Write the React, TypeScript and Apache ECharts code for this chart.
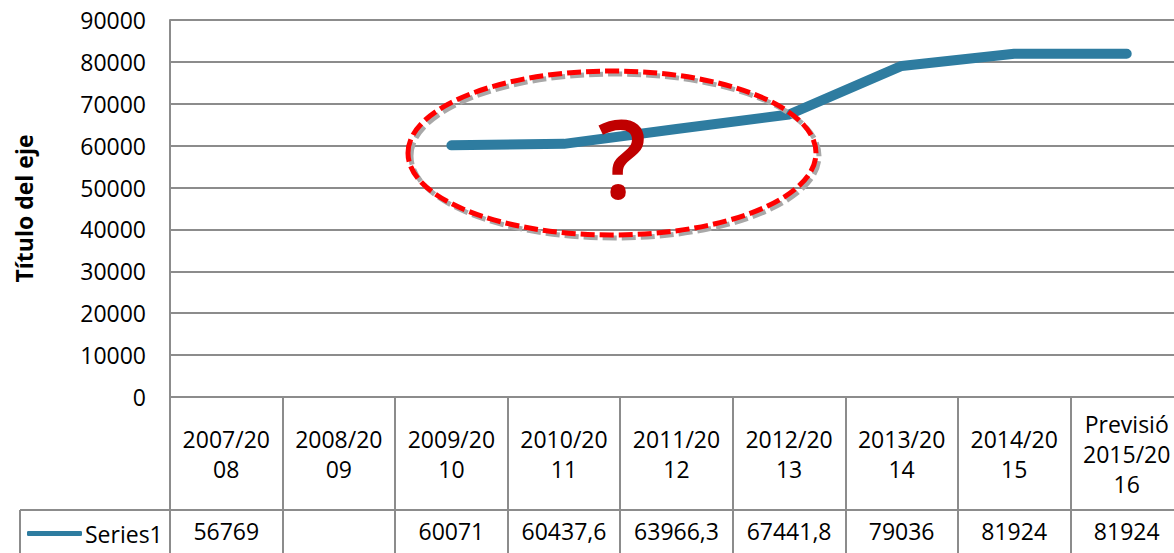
import React, { useEffect, useRef } from "react";
import * as echarts from "echarts";

const categories = [
  "2007/20\n08",
  "2008/20\n09",
  "2009/20\n10",
  "2010/20\n11",
  "2011/20\n12",
  "2012/20\n13",
  "2013/20\n14",
  "2014/20\n15",
  "Previsió\n2015/20\n16",
];
const series1: (number | null)[] = [56769, null, 60071, 60437.6, 63966.3, 67441.8, 79036, 81924, 81924];
const seriesName = "Series1";
const yMin = 0;
const yMax = 90000;
const yInterval = 10000;
const yAxisTitle = "Título del eje";
const annotationMark = "?";

const valueLabels = series1.map((v) => (v == null ? "" : String(v).replace(".", ",")));

const FONT = "'Open Sans', sans-serif";
const GRID_COLOR = "#8c8c8c";
const LINE_COLOR = "#2e7ca0";
const FS = 23;

export default function App() {
  const ref = useRef<HTMLDivElement>(null);
  useEffect(() => {
    if (!ref.current) return;
    const chart = echarts.init(ref.current, null, { renderer: "svg" });
    const gridTop = 20;
    const gridLeft = 170;
    const gridHeight = 377;
    const tableLineY = 510;
    chart.setOption({
      animation: false,
      textStyle: { fontFamily: FONT },
      grid: { left: gridLeft, top: gridTop, width: 1013, height: gridHeight },
      legend: {
        left: 22,
        top: 517,
        itemWidth: 55,
        itemHeight: 5,
        icon: "roundRect",
        itemGap: 0,
        textStyle: { fontFamily: FONT, fontSize: FS, color: "#000", padding: [0, 0, 0, -2] },
        data: [{ name: seriesName, itemStyle: { color: LINE_COLOR } }],
      },
      xAxis: [
        {
          type: "category",
          data: categories,
          boundaryGap: true,
          position: "bottom",
          axisLine: { show: true, lineStyle: { color: GRID_COLOR, width: 2 } },
          axisTick: { show: true, interval: 0, length: 160, lineStyle: { color: GRID_COLOR, width: 2 } },
          axisLabel: {
            interval: 0,
            margin: 57,
            verticalAlign: "middle",
            lineHeight: 30,
            fontSize: FS,
            color: "#000",
            fontFamily: FONT,
          },
          splitLine: { show: false },
        },
        {
          type: "category",
          data: categories,
          boundaryGap: true,
          position: "bottom",
          axisLine: { show: false },
          axisTick: { show: false },
          axisLabel: {
            interval: 0,
            margin: 134,
            verticalAlign: "middle",
            fontSize: FS,
            color: "#000",
            fontFamily: FONT,
            formatter: (_v: string, i: number) => valueLabels[i],
          },
        },
      ],
      yAxis: {
        type: "value",
        min: yMin,
        max: yMax,
        interval: yInterval,
        name: yAxisTitle,
        nameLocation: "middle",
        nameGap: 135,
        nameTextStyle: { fontFamily: FONT, fontSize: 23, fontWeight: "bold", color: "#000" },
        axisLine: { show: true, lineStyle: { color: GRID_COLOR, width: 2 } },
        axisTick: { show: false },
        axisLabel: {
          margin: 24,
          fontSize: FS,
          color: "#000",
          fontFamily: FONT,
          formatter: (v: number) => String(v),
        },
        splitLine: { show: true, lineStyle: { color: GRID_COLOR, width: 2 } },
      },
      series: [
        {
          name: seriesName,
          type: "line",
          data: series1,
          connectNulls: false,
          showSymbol: false,
          symbol: "none",
          lineStyle: { color: LINE_COLOR, width: 10, cap: "round", join: "round" },
          itemStyle: { color: LINE_COLOR },
          z: 3,
        },
      ],
      graphic: [
        {
          type: "line",
          shape: { x1: 20, y1: tableLineY, x2: 1200, y2: tableLineY },
          style: { stroke: GRID_COLOR, lineWidth: 2 },
          silent: true,
        },
        {
          type: "line",
          shape: { x1: 20, y1: tableLineY, x2: 20, y2: 560 },
          style: { stroke: GRID_COLOR, lineWidth: 2 },
          silent: true,
        },
        {
          type: "ellipse",
          shape: { cx: 615, cy: 156, rx: 204, ry: 82 },
          style: { fill: "none", stroke: "#a8a8a8", lineWidth: 5, lineDash: [14, 5] },
          z: 10,
          silent: true,
        },
        {
          type: "ellipse",
          shape: { cx: 612, cy: 153, rx: 204, ry: 82 },
          style: { fill: "none", stroke: "#ff0000", lineWidth: 5, lineDash: [14, 5] },
          z: 11,
          silent: true,
        },
        {
          type: "text",
          x: 622,
          y: 157,
          style: {
            text: annotationMark,
            fontFamily: FONT,
            fontSize: 108,
            fontWeight: 600,
            fill: "#c00000",
            textAlign: "center",
            textVerticalAlign: "middle",
          },
          z: 12,
          silent: true,
        },
      ],
    });
    return () => chart.dispose();
  }, []);
  return (
    <div style={{ position: "fixed", left: 0, top: 0, width: 1174, height: 553, overflow: "hidden", background: "#fff" }}>
      <div ref={ref} style={{ width: 1200, height: 553 }} />
    </div>
  );
}
